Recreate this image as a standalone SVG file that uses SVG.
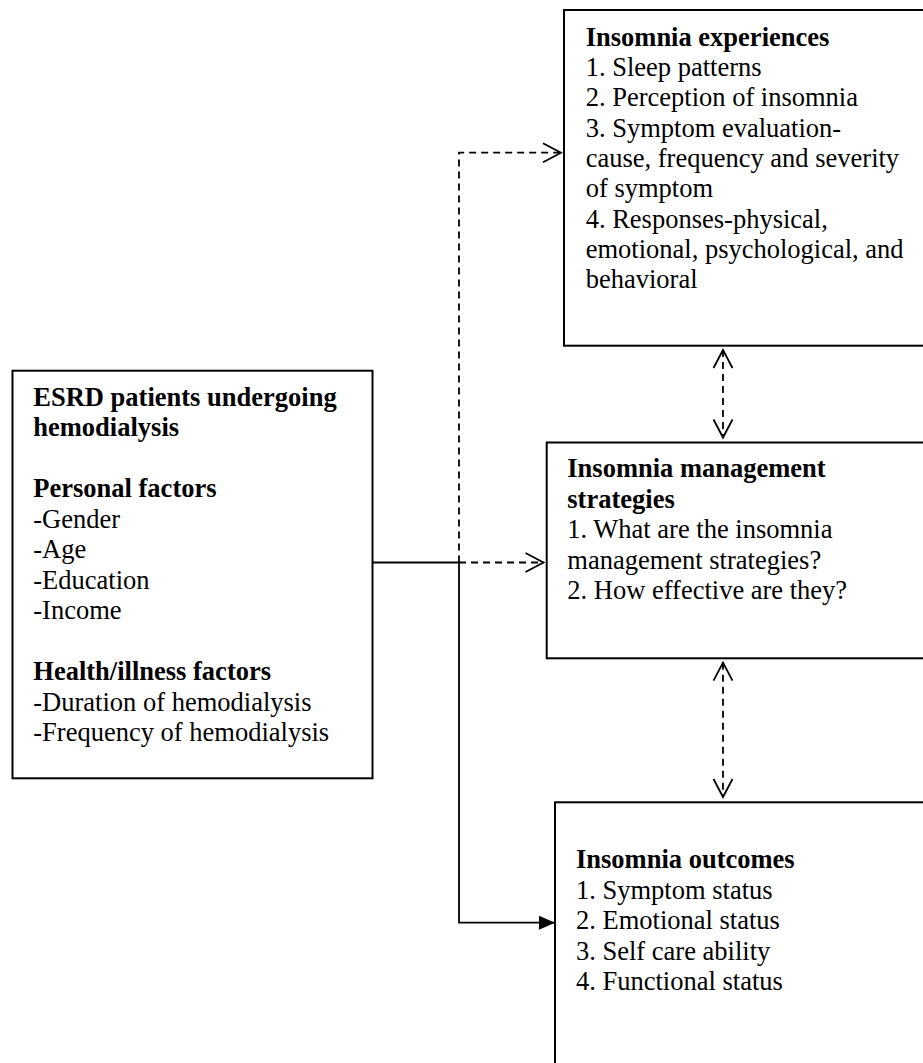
<svg xmlns="http://www.w3.org/2000/svg" width="923" height="1063" viewBox="0 0 923 1063">
<style>
.box{fill:#fff;stroke:#000;stroke-width:2}
.t{font-family:'Liberation Serif','Times New Roman',Times,serif;font-size:26.5px;fill:#000}
.b{font-weight:bold}
.solid{fill:none;stroke:#000;stroke-width:1.8}
.dash{fill:none;stroke:#000;stroke-width:1.8;stroke-dasharray:7,5}
</style>
<defs>
<marker id="open" markerUnits="userSpaceOnUse" markerWidth="24" markerHeight="24" viewBox="0 0 24 24" refX="19" refY="10" orient="auto-start-reverse" overflow="visible">
<path d="M1,0.5 L19,10 L1,19.5" fill="none" stroke="#000" stroke-width="1.8" stroke-dasharray="none"/>
</marker>
<marker id="filled" markerUnits="userSpaceOnUse" markerWidth="20" markerHeight="20" viewBox="0 0 20 20" refX="16" refY="7" orient="auto" overflow="visible">
<path d="M0,0 L16,7 L0,14 Z" fill="#000" stroke="none"/>
</marker>
</defs>

<g id="connectors">
<path class="solid" d="M372,562.5 H459 V922.7 H555" marker-end="url(#filled)"/>
<path class="dash" d="M459,562.5 V152.7 H561" marker-end="url(#open)"/>
<path class="dash" d="M459,562.5 H543.5" marker-end="url(#open)"/>
<path class="dash" d="M723,350 V437.5" marker-start="url(#open)" marker-end="url(#open)"/>
<path class="dash" d="M723,662.7 V797" marker-start="url(#open)" marker-end="url(#open)"/>
</g>

<g id="node-esrd">
<rect class="box" x="12.5" y="370.7" width="360" height="407.6"/>
<text class="t" font-family="'Liberation Serif', 'Times New Roman', serif">
<tspan class="b" x="33.3" y="405.7">ESRD patients undergoing</tspan>
<tspan class="b" x="33.3" y="436.2">hemodialysis</tspan>
<tspan class="b" x="33.3" y="497.2">Personal factors</tspan>
<tspan x="33.3" y="527.7">-Gender</tspan>
<tspan x="33.3" y="558.2">-Age</tspan>
<tspan x="33.3" y="588.7">-Education</tspan>
<tspan x="33.3" y="619.2">-Income</tspan>
<tspan class="b" x="33.3" y="680.2">Health/illness factors</tspan>
<tspan x="33.3" y="710.7">-Duration of hemodialysis</tspan>
<tspan x="33.3" y="741.2">-Frequency of hemodialysis</tspan>
</text>
</g>

<g id="node-experiences">
<rect class="box" x="564" y="10" width="370" height="335.7"/>
<text class="t" font-family="'Liberation Serif', 'Times New Roman', serif">
<tspan class="b" x="585.7" y="45.7">Insomnia experiences</tspan>
<tspan x="585.7" y="76">1. Sleep patterns</tspan>
<tspan x="585.7" y="106.3">2. Perception of insomnia</tspan>
<tspan x="585.7" y="136.6">3. Symptom evaluation-</tspan>
<tspan x="585.7" y="166.9">cause, frequency and severity</tspan>
<tspan x="585.7" y="197.2">of symptom</tspan>
<tspan x="585.7" y="227.5">4. Responses-physical,</tspan>
<tspan x="585.7" y="257.8">emotional, psychological, and</tspan>
<tspan x="585.7" y="288.1">behavioral</tspan>
</text>
</g>

<g id="node-management">
<rect class="box" x="546.7" y="442.5" width="390" height="215.8"/>
<text class="t" font-family="'Liberation Serif', 'Times New Roman', serif">
<tspan class="b" x="567.3" y="477.3">Insomnia management</tspan>
<tspan class="b" x="567.3" y="507.7">strategies</tspan>
<tspan x="567.3" y="538.1">1. What are the insomnia</tspan>
<tspan x="567.3" y="568.5">management strategies?</tspan>
<tspan x="567.3" y="598.9">2. How effective are they?</tspan>
</text>
</g>

<g id="node-outcomes">
<rect class="box" x="555" y="802.3" width="380" height="280"/>
<text class="t" font-family="'Liberation Serif', 'Times New Roman', serif">
<tspan class="b" x="576" y="868.3">Insomnia outcomes</tspan>
<tspan x="576" y="898.8">1. Symptom status</tspan>
<tspan x="576" y="929.3">2. Emotional status</tspan>
<tspan x="576" y="959.8">3. Self care ability</tspan>
<tspan x="576" y="990.3">4. Functional status</tspan>
</text>
</g>
</svg>
